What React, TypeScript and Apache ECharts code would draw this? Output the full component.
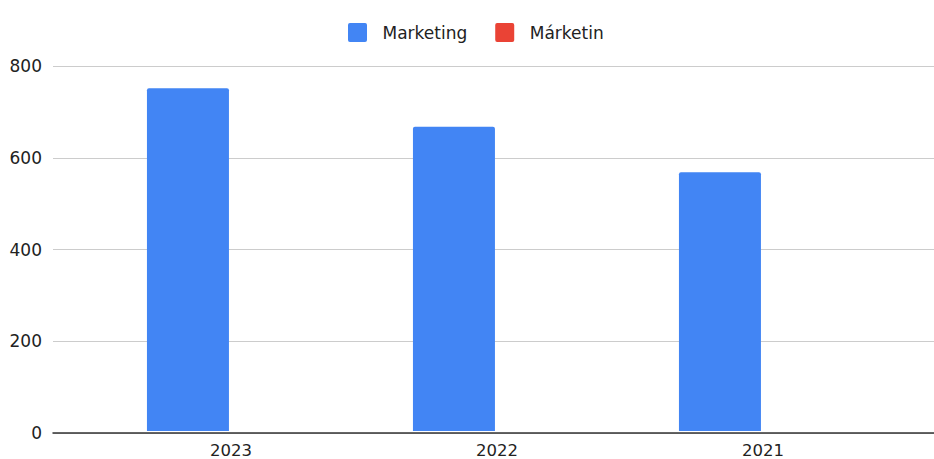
import React, { useEffect, useRef } from "react";
import * as echarts from "echarts";

const categories = ["2023", "2022", "2021"];
const marketing = [751, 667, 567];
const marketin = [0, 0, 0];
const yTicks = [0, 200, 400, 600, 800];

export default function App() {
  const ref = useRef<HTMLDivElement>(null);
  useEffect(() => {
    if (!ref.current) return;
    const chart = echarts.init(ref.current, null, { renderer: "svg" });
    const font = "'DejaVu Sans', sans-serif";
    const icon = "path://M2,0 H18 Q20,0 20,2 V18 Q20,20 18,20 H2 Q0,20 0,18 V2 Q0,0 2,0 Z";
    chart.setOption({
      animation: false,
      textStyle: { fontFamily: font },
      legend: {
        top: 18,
        left: 343,
        itemWidth: 20,
        itemHeight: 19,
        itemGap: 28,
        icon,
        textStyle: { fontSize: 17, color: "#222", fontFamily: font, padding: [0, 0, 0, 10] },
        data: ["Marketing", "Márketin"],
      },
      grid: [
        { left: 53, right: 0, top: 66, bottom: 26 },
        { left: 98, width: 798, top: 66, bottom: 26 },
      ],
      xAxis: [
        {
          gridIndex: 0,
          type: "category",
          data: categories,
          axisLine: { show: true, lineStyle: { color: "#333", width: 1.5 } },
          axisTick: { show: false },
          axisLabel: { show: false },
        },
        {
          gridIndex: 1,
          type: "category",
          data: categories,
          axisLine: { show: false },
          axisTick: { show: false },
          axisLabel: { fontSize: 16.5, color: "#222", margin: 11, fontFamily: font },
        },
      ],
      yAxis: [
        {
          gridIndex: 0,
          type: "value",
          min: yTicks[0],
          max: yTicks[yTicks.length - 1],
          interval: 200,
          axisLine: { show: false },
          axisTick: { show: false },
          axisLabel: { fontSize: 17, color: "#222", margin: 11, fontFamily: font },
          splitLine: { lineStyle: { color: "#cccccc", width: 1 } },
        },
        {
          gridIndex: 1,
          type: "value",
          min: yTicks[0],
          max: yTicks[yTicks.length - 1],
          interval: 200,
          show: false,
          splitLine: { show: false },
        },
      ],
      series: [
        {
          name: "Marketing",
          type: "bar",
          xAxisIndex: 1,
          yAxisIndex: 1,
          data: marketing,
          barWidth: 82,
          barGap: "5%",
          itemStyle: { color: "#4285F4", borderRadius: [2, 2, 0, 0] },
        },
        {
          name: "Márketin",
          type: "bar",
          xAxisIndex: 1,
          yAxisIndex: 1,
          data: marketin,
          barWidth: 82,
          barGap: "5%",
          itemStyle: { color: "#EA4335", borderRadius: [2, 2, 0, 0] },
        },
      ],
    });
    return () => chart.dispose();
  }, []);
  return <div ref={ref} style={{ width: 934, height: 459, position: "absolute", left: 0, top: 0 }} />;
}
